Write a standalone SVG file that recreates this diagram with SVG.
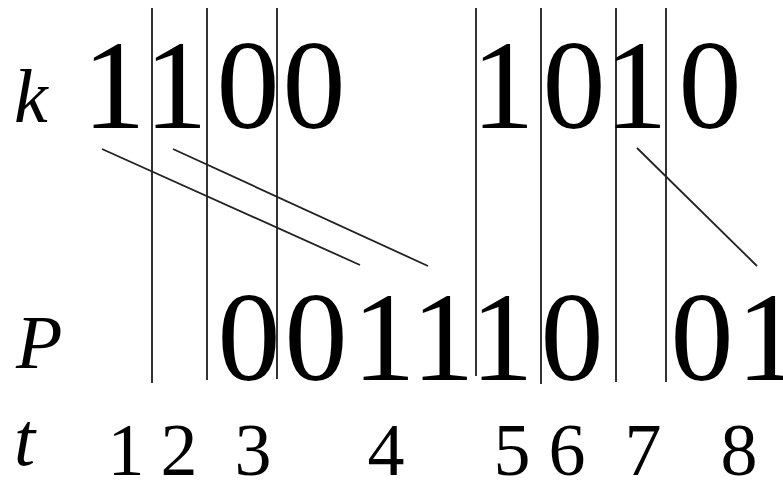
<svg xmlns="http://www.w3.org/2000/svg" width="783" height="481" viewBox="0 0 783 481">
<style>
.d{font-family:"Liberation Serif","Times New Roman",serif;font-size:126px;fill:#000;text-anchor:middle}
.t{font-family:"Liberation Serif","Times New Roman",serif;font-size:74px;fill:#000;text-anchor:middle}
.v{font-family:"Liberation Serif","Times New Roman",serif;font-size:76px;font-style:italic;fill:#000}
.g{stroke:#333;stroke-width:2;fill:none}
.c{stroke:#222;stroke-width:1.8;fill:none}
</style>
<rect width="783" height="481" fill="#fff"/>
<g id="grid">
<line class="g" x1="152" y1="8" x2="152" y2="383"/>
<line class="g" x1="207" y1="8" x2="207" y2="380"/>
<line class="g" x1="277" y1="8" x2="277" y2="379"/>
<line class="g" x1="476" y1="8" x2="476" y2="376"/>
<line class="g" x1="541" y1="8" x2="541" y2="384"/>
<line class="g" x1="616" y1="8" x2="616" y2="382"/>
<line class="g" x1="666" y1="8" x2="666" y2="382"/>
</g>
<g id="connectors">
<line class="c" x1="102" y1="149" x2="360" y2="265"/>
<line class="c" x1="173" y1="149" x2="428" y2="266"/>
<line class="c" x1="637" y1="148" x2="757" y2="266"/>
</g>
<g id="row-k">
<text class="v" x="14" y="122">k</text>
<text class="d" x="114" y="128">1</text>
<text class="d" x="176" y="128">1</text>
<text class="d" x="248" y="128">0</text>
<text class="d" x="314" y="128">0</text>
<text class="d" x="503" y="128">1</text>
<text class="d" x="574" y="128">0</text>
<text class="d" x="636" y="128">1</text>
<text class="d" x="710" y="128">0</text>
</g>
<g id="row-P">
<text class="v" x="16" y="368">P</text>
<text class="d" x="249" y="380">0</text>
<text class="d" x="316" y="380">0</text>
<text class="d" x="384" y="380">1</text>
<text class="d" x="443" y="380">1</text>
<text class="d" x="502" y="380">1</text>
<text class="d" x="572" y="380">0</text>
<text class="d" x="702" y="380">0</text>
<text class="d" x="768" y="380">1</text>
</g>
<g id="row-t">
<text class="v" x="14" y="465">t</text>
<text class="t" x="126" y="475">1</text>
<text class="t" x="179" y="475">2</text>
<text class="t" x="253" y="475">3</text>
<text class="t" x="386" y="475">4</text>
<text class="t" x="512" y="475">5</text>
<text class="t" x="567" y="475">6</text>
<text class="t" x="643" y="475">7</text>
<text class="t" x="739" y="475">8</text>
</g>
</svg>
